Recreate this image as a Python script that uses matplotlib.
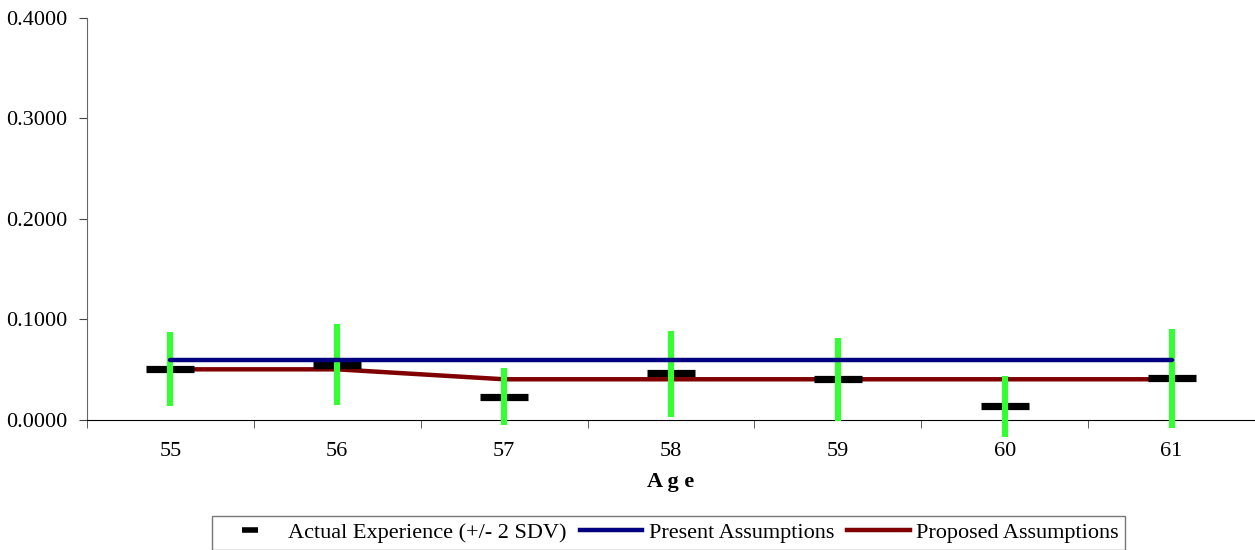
import matplotlib
matplotlib.use("Agg")
import matplotlib.pyplot as plt
from matplotlib.lines import Line2D

ages = [55, 56, 57, 58, 59, 60, 61]
actual = [0.0504, 0.0547, 0.0232, 0.0464, 0.0405, 0.0143, 0.0418]
upper = [0.0876, 0.0955, 0.0517, 0.0886, 0.0816, 0.0438, 0.0905]
lower = [0.0139, 0.0149, -0.0050, 0.0030, -0.0010, -0.0170, -0.0079]
present = [0.0595, 0.0595, 0.0595, 0.0595, 0.0595, 0.0595, 0.0595]
proposed = [0.0504, 0.0504, 0.0405, 0.0405, 0.0405, 0.0405, 0.0405]

plt.rcParams['font.family'] = ['Liberation Serif', 'DejaVu Serif']

fig = plt.figure(figsize=(12.55, 5.5), dpi=100)
ax = fig.add_axes([0.0693, 0.2364, 0.9307, 0.7309])

ax.plot(ages, proposed, color='#800000', lw=3.2, zorder=2, solid_capstyle='round')
ax.plot(ages, actual, linestyle='none', marker='_', color='black',
        markersize=34, markeredgewidth=5.2, zorder=3)
ax.vlines(ages, lower, upper, color='#33ff33', lw=4.4, zorder=4, clip_on=False)
ax.plot(ages, present, color='#000080', lw=3.2, zorder=5, solid_capstyle='round')

ax.set_xlim(54.5, 61.5)
ax.set_ylim(0, 0.4)
ax.set_yticks([0, 0.1, 0.2, 0.3, 0.4])
ax.set_yticklabels(['%.4f' % v for v in [0, 0.1, 0.2, 0.3, 0.4]], fontsize=16)
ax.set_xticks(ages)
ax.set_xticklabels([str(a) for a in ages], fontsize=16)
ax.set_xticks([a - 0.5 for a in ages] + [61.5], minor=True)
ax.tick_params(axis='x', which='major', length=0, pad=16)
ax.tick_params(axis='x', which='minor', length=6, direction='out', color='#444444')
ax.tick_params(axis='y', length=6, direction='out', pad=8, color='#444444')
ax.spines['top'].set_visible(False)
ax.spines['right'].set_visible(False)
ax.spines['left'].set_color('#666666')
ax.spines['bottom'].set_color('black')
ax.set_xlabel('A g e', fontsize=16, fontweight='bold', labelpad=8)

handles = [
    Line2D([], [], linestyle='none', marker='_', color='black', markersize=12, markeredgewidth=4),
    Line2D([], [], color='#000080', lw=3.2),
    Line2D([], [], color='#800000', lw=3.2),
]
labels = ['Actual Experience (+/- 2 SDV)', 'Present Assumptions', 'Proposed Assumptions']
leg = fig.legend(handles, labels, loc='upper center', bbox_to_anchor=(0.533, 0.062),
                 borderaxespad=0, ncol=3, fontsize=16, frameon=True, fancybox=False,
                 edgecolor='#555555', handlelength=2.8, handletextpad=0.3,
                 columnspacing=0.6, borderpad=0.3)
leg.get_frame().set_linewidth(1.0)

fig.savefig('out.png', dpi=100)
